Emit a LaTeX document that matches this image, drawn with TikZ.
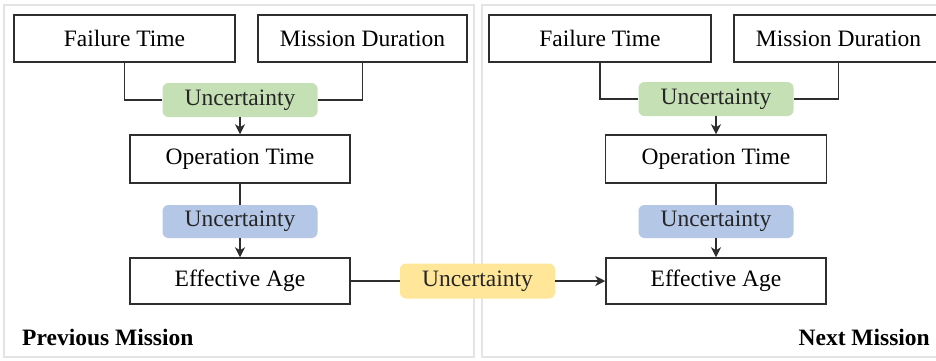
\documentclass[tikz,border=0pt]{standalone}
\usepackage{fontspec}
\setmainfont{Liberation Serif}
\usetikzlibrary{arrows.meta}
\definecolor{boxline}{HTML}{2E2E2E}
\definecolor{ugreen}{HTML}{C5E0B4}
\definecolor{ublue}{HTML}{B4C7E7}
\definecolor{uyellow}{HTML}{FFE699}
\definecolor{panelline}{HTML}{E4E4E4}
\tikzset{
  mainbox/.style={draw=boxline, line width=1.5pt, fill=white, inner sep=0pt, text=black,
    font=\fontsize{23.5}{27}\selectfont},
  unc/.style={rounded corners=6pt, inner sep=0pt, minimum width=155pt, minimum height=34pt,
    text=black!85, font=\fontsize{23.5}{27}\selectfont},
  conn/.style={draw=boxline, line width=1.2pt},
  arr/.style={conn, -{Stealth[length=10pt,width=10pt,inset=3pt]}},
  panel/.style={draw=panelline, line width=1.2pt, fill=white},
  mlabel/.style={font=\fontsize{23.5}{27}\selectfont\bfseries, text=black, inner sep=0pt}
}
\begin{document}
\begin{tikzpicture}[x=1pt,y=-1pt]
\useasboundingbox (0,0) rectangle (936,360);
\begin{scope}
\clip (0,0) rectangle (936,360);
% panels
\draw[panel] (4,5) rectangle (474,357);
\draw[panel] (482,5) rectangle (945,357);

% left panel
\node[mainbox, minimum width=221pt, minimum height=47pt] (FT1) at (124.5,38.5) {Failure Time};
\node[mainbox, minimum width=209pt, minimum height=47pt] (MD1) at (362.5,38.5) {Mission Duration};
\node[unc, fill=ugreen] (G1) at (240,100) {Uncertainty};
\node[mainbox, minimum width=220pt, minimum height=48pt] (OT1) at (240,159) {Operation Time};
\node[unc, fill=ublue, minimum height=33pt] (B1) at (240,221.5) {Uncertainty};
\node[mainbox, minimum width=220pt, minimum height=46pt] (EA1) at (240,281) {Effective Age};

% right panel
\node[mainbox, minimum width=222pt, minimum height=47pt] (FT2) at (600,38.5) {Failure Time};
\node[mainbox, minimum width=209pt, minimum height=47pt] (MD2) at (838.5,38.5) {Mission Duration};
\node[unc, fill=ugreen] (G2) at (716,99) {Uncertainty};
\node[mainbox, minimum width=221pt, minimum height=48pt] (OT2) at (716,159) {Operation Time};
\node[unc, fill=ublue, minimum height=33pt] (B2) at (716,221.5) {Uncertainty};
\node[mainbox, minimum width=220pt, minimum height=46pt] (EA2) at (716,281) {Effective Age};

% transfer
\node[unc, fill=uyellow, minimum height=35pt] (Y) at (477.5,281) {Uncertainty};

% connectors left
\draw[conn] (FT1.south) |- (G1.west);
\draw[conn] (MD1.south) |- (G1.east);
\draw[arr] (G1.south) -- (OT1.north);
\draw[conn] (OT1.south) -- (B1.north);
\draw[arr] (B1.south) -- (EA1.north);
% connectors right
\draw[conn] (FT2.south) |- (G2.west);
\draw[conn] (MD2.south) |- (G2.east);
\draw[arr] (G2.south) -- (OT2.north);
\draw[conn] (OT2.south) -- (B2.north);
\draw[arr] (B2.south) -- (EA2.north);
% transfer connectors
\draw[conn] (EA1.east) -- (Y.west);
\draw[arr] (Y.east) -- (EA2.west);

% labels
\node[mlabel, anchor=base west] (PM) at (22,345) {Previous Mission};
\node[mlabel, anchor=base east] (NM) at (930,345) {Next Mission};
\end{scope}
\end{tikzpicture}
\end{document}
